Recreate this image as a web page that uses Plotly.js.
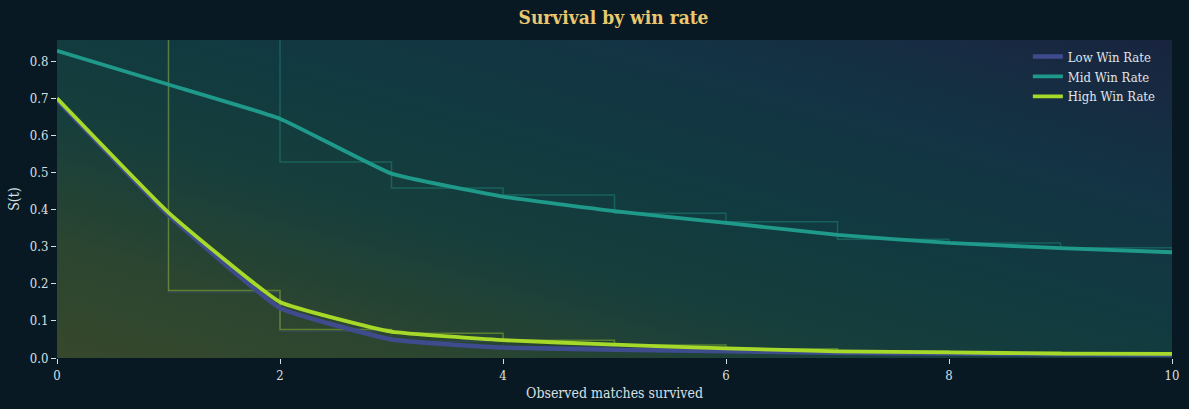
<!DOCTYPE html>
<html><head><meta charset="utf-8">
<script src="https://cdn.plot.ly/plotly-3.0.1.min.js"></script>
<style>html,body{margin:0;padding:0;background:#081923;}#chart{width:1189px;height:409px;}</style>
</head><body><div id="chart"></div>
<script>
// Data
const t = [0,1,2,3,4,5,6,7,8,9,10];
const lowWin  = [0.695,0.385,0.135,0.050,0.028,0.022,0.018,0.014,0.012,0.010,0.008];
const midWin  = [0.828,0.737,0.645,0.497,0.435,0.396,0.364,0.332,0.310,0.296,0.285];
const highWin = [0.700,0.392,0.151,0.071,0.048,0.036,0.026,0.018,0.015,0.012,0.011];
// Kaplan-Meier style step estimates (value held from t to t+1)
const stepT = [0,1,2,3,4,5,6,7,8,9,10];
const lowStep  = [1.0,0.177,0.072,0.045,0.030,0.024,0.019,0.015,0.012,0.010,0.009];
const midStep  = [1.0,1.0,0.528,0.458,0.439,0.390,0.367,0.320,0.310,0.297,0.292];
const highStep = [1.0,0.182,0.077,0.067,0.048,0.035,0.025,0.019,0.016,0.013,0.011];
const names = ['Low Win Rate','Mid Win Rate','High Win Rate'];
const colors = ['#3e4c8d','#1f9a8a','#a6d92a'];

// background gradient image for the plot area (same pixel size as plot area)
const W = 1115, H = 318;
const cv = document.createElement('canvas');
cv.width = W; cv.height = H;
const cx = cv.getContext('2d');
const g = cx.createLinearGradient(0,H,168,-270);
g.addColorStop(0,'#37482c');
g.addColorStop(0.18,'#2b4530');
g.addColorStop(0.38,'#163e3c');
g.addColorStop(0.55,'#113a40');
g.addColorStop(0.75,'#133444');
g.addColorStop(1,'#19243f');
cx.fillStyle = g; cx.fillRect(0,0,W,H);
const bg = cv.toDataURL();

const stepTraces = [lowStep, midStep, highStep].map((s,i)=>({
  x: stepT, y: s, mode:'lines', line:{shape:'hv', width:1.5, color:colors[i]},
  opacity: i===0?0.35:0.4, showlegend:false, hoverinfo:'skip'
}));
const lineTraces = [lowWin, midWin, highWin].map((s,i)=>({
  x: t, y: s, name: names[i], mode:'lines',
  line:{shape:'spline', smoothing:0.35, width: i===0?4.5:3.8, color:colors[i]}
}));

const font = '"DejaVu Serif Condensed", "DejaVu Serif", serif';
const layout = {
  width:1189, height:409,
  paper_bgcolor:'#081923', plot_bgcolor:'rgba(0,0,0,0)',
  margin:{l:57, r:17, t:40, b:51},
  font:{family:font, color:'#d8e0e4', size:13},
  title:{text:'<b>Survival by win rate</b>', x:0.516, xanchor:'center', y:0.957, yanchor:'middle', font:{family:font, size:19, color:'#e9c870'}},
  xaxis:{range:[0,10], dtick:2, showgrid:false, zeroline:false, ticks:'outside', ticklen:5, tickcolor:'#d8e0e4',
         title:{text:'Observed matches survived', font:{size:14}, standoff:6}, showline:false},
  yaxis:{range:[0,0.857], dtick:0.1, tickformat:'.1f', showgrid:false, zeroline:false, ticks:'outside', ticklen:5, tickcolor:'#d8e0e4',
         title:{text:'S(t)', font:{size:14}, standoff:6}},
  legend:{x:0.99, xanchor:'right', y:0.995, yanchor:'top', bgcolor:'rgba(0,0,0,0)', font:{size:13, color:'#e0e6e8'}, tracegroupgap:0},
  images:[{source:bg, xref:'paper', yref:'paper', x:0, y:1, sizex:1, sizey:1, sizing:'stretch', layer:'below', xanchor:'left', yanchor:'top'}],
  showlegend:true
};
Plotly.newPlot('chart', [...stepTraces, ...lineTraces], layout, {displayModeBar:false, staticPlot:true});
</script></body></html>
